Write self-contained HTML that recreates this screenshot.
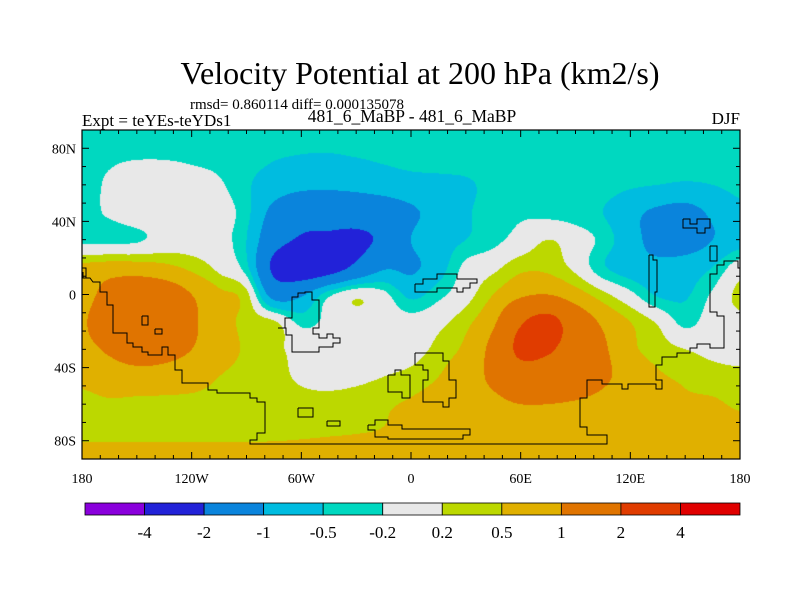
<!DOCTYPE html>
<html><head><meta charset="utf-8"><style>
body{margin:0;background:#fff;width:800px;height:600px;overflow:hidden;font-family:"Liberation Serif",serif;}
#wrap{position:relative;width:800px;height:600px;}
canvas{position:absolute;left:82px;top:130px;}
svg{position:absolute;left:0;top:0;}
</style></head><body><div id="wrap">
<canvas id="cv" width="658" height="329"></canvas>
<svg id="sv" width="800" height="600" font-family="Liberation Serif, serif">
<text x="420" y="84" text-anchor="middle" font-size="32">Velocity Potential at 200 hPa (km2/s)</text>
<text x="190" y="109" font-size="15">rmsd= 0.860114 diff= 0.000135078</text>
<text x="82" y="126" font-size="17">Expt = teYEs-teYDs1</text>
<text x="412" y="122" text-anchor="middle" font-size="17.5">481_6_MaBP - 481_6_MaBP</text>
<text x="740" y="124" text-anchor="end" font-size="17">DJF</text>
</svg>
</div>
<script>
const lons=[-180,-165,-150,-135,-120,-105,-90,-75,-60,-45,-30,-15,0,15,30,45,60,75,90,105,120,135,150,165,180];
const lats=[90,75,60,45,30,15,0,-15,-30,-45,-60,-75,-90];
const r90=[-0.35,-0.35,-0.35,-0.35,-0.35,-0.38,-0.4,-0.42,-0.45,-0.45,-0.43,-0.4,-0.38,-0.36,-0.35,-0.33,-0.32,-0.32,-0.32,-0.33,-0.34,-0.35,-0.35,-0.35,-0.35];
const r75=[-0.3,-0.25,-0.22,-0.22,-0.25,-0.3,-0.4,-0.48,-0.52,-0.53,-0.5,-0.45,-0.4,-0.38,-0.35,-0.32,-0.3,-0.3,-0.3,-0.32,-0.35,-0.35,-0.35,-0.33,-0.3];
const r60=[-0.3,-0.15,0.05,0.05,-0.05,-0.15,-0.45,-0.7,-0.85,-0.9,-0.85,-0.75,-0.65,-0.6,-0.55,-0.4,-0.3,-0.3,-0.3,-0.35,-0.45,-0.5,-0.55,-0.5,-0.4];
const r45=[-0.3,-0.15,0.05,0.1,0.05,0.0,-0.4,-1.2,-1.6,-1.5,-1.5,-1.4,-1.1,-0.8,-0.55,-0.35,-0.25,-0.3,-0.35,-0.5,-0.85,-1.1,-1.2,-0.9,-0.6];
const r30=[-0.3,-0.3,-0.25,-0.05,0.0,-0.05,-0.5,-1.6,-2.1,-2.2,-2.2,-1.8,-1.0,-0.7,-0.5,-0.3,-0.05,0.2,0.0,-0.3,-0.8,-1.2,-1.3,-1.0,-0.7];
const r15=[0.6,0.7,0.7,0.6,0.4,0.1,-0.4,-2.2,-2.7,-2.5,-1.8,-1.1,-1.1,-0.7,-0.1,0.1,0.4,0.4,0.1,-0.45,-0.75,-0.85,-0.75,-0.5,0.0];
const r0=[0.7,1.3,1.5,1.4,1.0,0.6,0.3,-1.3,-1.1,-0.3,0.1,-0.1,-0.6,-0.3,0.05,0.5,0.9,1.0,0.7,0.3,-0.1,-0.55,-0.55,-0.15,0.3];
const rS15=[0.9,1.6,1.6,1.5,1.1,0.7,0.4,0.25,-0.3,-0.1,0.0,0.0,-0.05,0.1,0.4,0.9,1.9,2.3,1.5,0.9,0.5,0.15,-0.3,0.0,0.1];
const rS30=[0.8,1.1,1.3,1.2,1.0,0.7,0.45,0.3,0.05,0.0,-0.05,0.0,0.05,0.3,0.6,1.2,2.2,2.1,1.6,1.1,0.6,0.35,0.2,0.1,0.05];
const rS45=[0.6,0.75,0.8,0.8,0.7,0.5,0.4,0.3,0.15,0.1,0.12,0.2,0.3,0.5,0.8,1.1,1.5,1.5,1.4,1.1,0.8,0.55,0.45,0.35,0.3];
const rS60=[0.4,0.45,0.42,0.4,0.4,0.4,0.4,0.35,0.3,0.3,0.35,0.45,0.55,0.7,0.8,0.9,1.0,1.0,0.95,0.85,0.7,0.6,0.55,0.55,0.45];
const rS75=[0.4,0.4,0.4,0.4,0.4,0.4,0.4,0.4,0.42,0.45,0.48,0.52,0.6,0.7,0.75,0.8,0.8,0.8,0.8,0.78,0.75,0.72,0.7,0.68,0.65];
const rS90=[0.7,0.7,0.7,0.7,0.7,0.7,0.7,0.7,0.72,0.75,0.75,0.75,0.75,0.75,0.75,0.75,0.75,0.75,0.75,0.75,0.75,0.75,0.75,0.75,0.75];
const grid=[r90,r75,r60,r45,r30,r15,r0,rS15,rS30,rS45,rS60,rS75,rS90];
const levels=[-4,-2,-1,-0.5,-0.2,0.2,0.5,1,2,4];
const levelLabels=["-4","-2","-1","-0.5","-0.2","0.2","0.5","1","2","4"];
const colors=["#8a00dc","#2222d8","#0a84dc","#00bce0","#00d8c0","#e8e8e8","#bcd800","#e0b000","#e07400","#e03c00","#e00000"];
const latTicks=[80,40,0,-40,-80], latLabels=["80N","40N","0","40S","80S"];
const lonTicks=[-180,-120,-60,0,60,120,180], lonLabels=["180","120W","60W","0","60E","120E","180"];

const X0=82,X1=740,Y0=130,Y1=459;
const xs=lon=>X0+(lon+180)/360*(X1-X0);
const ys=lat=>Y0+(90-lat)/180*(Y1-Y0);
function cr(p0,p1,p2,p3,t){return 0.5*((2*p1)+(-p0+p2)*t+(2*p0-5*p1+4*p2-p3)*t*t+(-p0+3*p1-3*p2+p3)*t*t*t);}
function val(lon,lat){
  const fx=(lon+180)/15, fy=(90-lat)/15;
  const ix=Math.min(Math.floor(fx),lons.length-2), iy=Math.min(Math.floor(fy),lats.length-2);
  const tx=fx-ix, ty=fy-iy;
  const g=(r,c)=>grid[Math.max(0,Math.min(lats.length-1,r))][Math.max(0,Math.min(lons.length-1,c))];
  const rows=[];
  for(let k=-1;k<3;k++)rows.push(cr(g(iy+k,ix-1),g(iy+k,ix),g(iy+k,ix+1),g(iy+k,ix+2),tx));
  return cr(rows[0],rows[1],rows[2],rows[3],ty);
}
function colorIdx(v){let i=0;while(i<levels.length&&v>=levels[i])i++;return i;}
const cv=document.getElementById('cv'),ctx=cv.getContext('2d');
const W=cv.width,H=cv.height,img=ctx.createImageData(W,H);
const rgb=colors.map(c=>[parseInt(c.substr(1,2),16),parseInt(c.substr(3,2),16),parseInt(c.substr(5,2),16)]);
for(let py=0;py<H;py++){const lat=90-(py+0.5)/H*180;
 for(let px=0;px<W;px++){const lon=-180+(px+0.5)/W*360;
  const c=rgb[colorIdx(val(lon,lat))];const o=(py*W+px)*4;
  img.data[o]=c[0];img.data[o+1]=c[1];img.data[o+2]=c[2];img.data[o+3]=255;}}
ctx.putImageData(img,0,0);

const NS='http://www.w3.org/2000/svg',sv=document.getElementById('sv');
function mk(tag,at){const e=document.createElementNS(NS,tag);for(const k in at)e.setAttribute(k,at[k]);sv.appendChild(e);return e;}
const coasts=[
"83,272 83,278 90,278 93,282 100,282 100,292 107,292 107,305 113,305 113,333 127,333 127,343 133,343 133,347 142,347 142,352 148,352 148,355 162,355 162,347 168,347 168,355 175,355 175,370 182,370 182,383 208,383 208,390 217,390 217,393 250,393 250,398 257,398 257,402 265,402 265,433 257,433 257,440 250,440 250,444 607,444 607,435 587,435 587,427 580,427 580,398 587,398 587,380 602,380 602,384 622,384 622,389 628,389 628,384 656,384 656,389 662,389 662,380 656,380 656,365 662,365 662,357 677,357 677,353 690,353 690,348 697,348 697,344 710,344 710,348 724,348 724,316 717,316 717,312 710,312 710,274 717,274 717,265 724,265 724,261 738,261 738,268 740,268",
"278,328 285,328 285,318 292,318 292,297 298,297 298,293 305,293 305,292 312,292 312,300 319,300 319,328 313,328 313,334 319,334 319,338 327,338 327,334 333,334 333,338 340,338 340,343 333,343 333,347 319,347 319,352 292,352 292,335 286,335 286,328 278,328",
"142,316 148,316 148,325 142,325 142,316","155,329 162,329 162,334 155,334 155,329",
"298,408 313,408 313,417 298,417 298,408","327,421 340,421 340,426 327,426 327,421",
"388,375 395,375 395,370 401,370 401,375 410,375 410,398 402,398 402,392 388,392 388,375",
"368,425 375,425 375,420 388,420 388,425 402,425 402,429 470,429 470,435 463,435 463,439 388,439 388,437 375,437 375,430 368,430 368,425",
"415,353 443,353 443,361 449,361 449,380 456,380 456,398 449,398 449,407 443,407 443,402 423,402 423,380 428,380 428,370 423,370 423,365 415,365 415,353",
"415,284 423,284 423,279 437,279 437,274 457,274 457,279 477,279 477,283 470,283 470,288 463,288 463,292 457,292 457,288 437,288 437,292 415,292 415,284",
"683,219 690,219 690,224 697,224 697,219 710,219 710,228 705,228 705,233 697,233 697,228 683,228 683,219",
"649,255 653,255 653,260 657,260 657,292 655,292 655,307 649,307 649,255",
"710,246 717,246 717,261 710,261 710,246","82,268 86,268 86,278"];
coasts.forEach((p,i)=>{const e=mk('polyline',{points:p,fill:'none',stroke:'#000','stroke-width':1});

});
const fr=mk('rect',{x:X0,y:Y0,width:X1-X0,height:Y1-Y0,fill:'none',stroke:'#000','stroke-width':1.2});


for(let lat=-90;lat<=90;lat+=10){const y=ys(lat),L=(lat%40===0)?7:4;
 mk('line',{x1:X0,y1:y,x2:X0+L,y2:y,stroke:'#000'});mk('line',{x1:X1,y1:y,x2:X1-L,y2:y,stroke:'#000'});}
for(let lon=-180;lon<=180;lon+=10){const x=xs(lon),L=(lon%60===0)?7:4;
 mk('line',{x1:x,y1:Y0,x2:x,y2:Y0+L,stroke:'#000'});mk('line',{x1:x,y1:Y1,x2:x,y2:Y1-L,stroke:'#000'});}
latTicks.forEach((lat,i)=>{const t=mk('text',{x:76,y:ys(lat)+5,'text-anchor':'end','font-size':14});t.textContent=latLabels[i];

});
lonTicks.forEach((lon,i)=>{const t=mk('text',{x:xs(lon),y:483,'text-anchor':'middle','font-size':14});t.textContent=lonLabels[i];

});
const CB0=85,CB1=740,CBY=503,CBH=12,bw=(CB1-CB0)/colors.length;
colors.forEach((c,i)=>{const r=mk('rect',{x:CB0+i*bw,y:CBY,width:bw,height:CBH,fill:c,stroke:'#000','stroke-width':0.8});

});
levelLabels.forEach((s,i)=>{const t=mk('text',{x:CB0+(i+1)*bw,y:538,'text-anchor':'middle','font-size':17});t.textContent=s;

});
</script></body></html>
